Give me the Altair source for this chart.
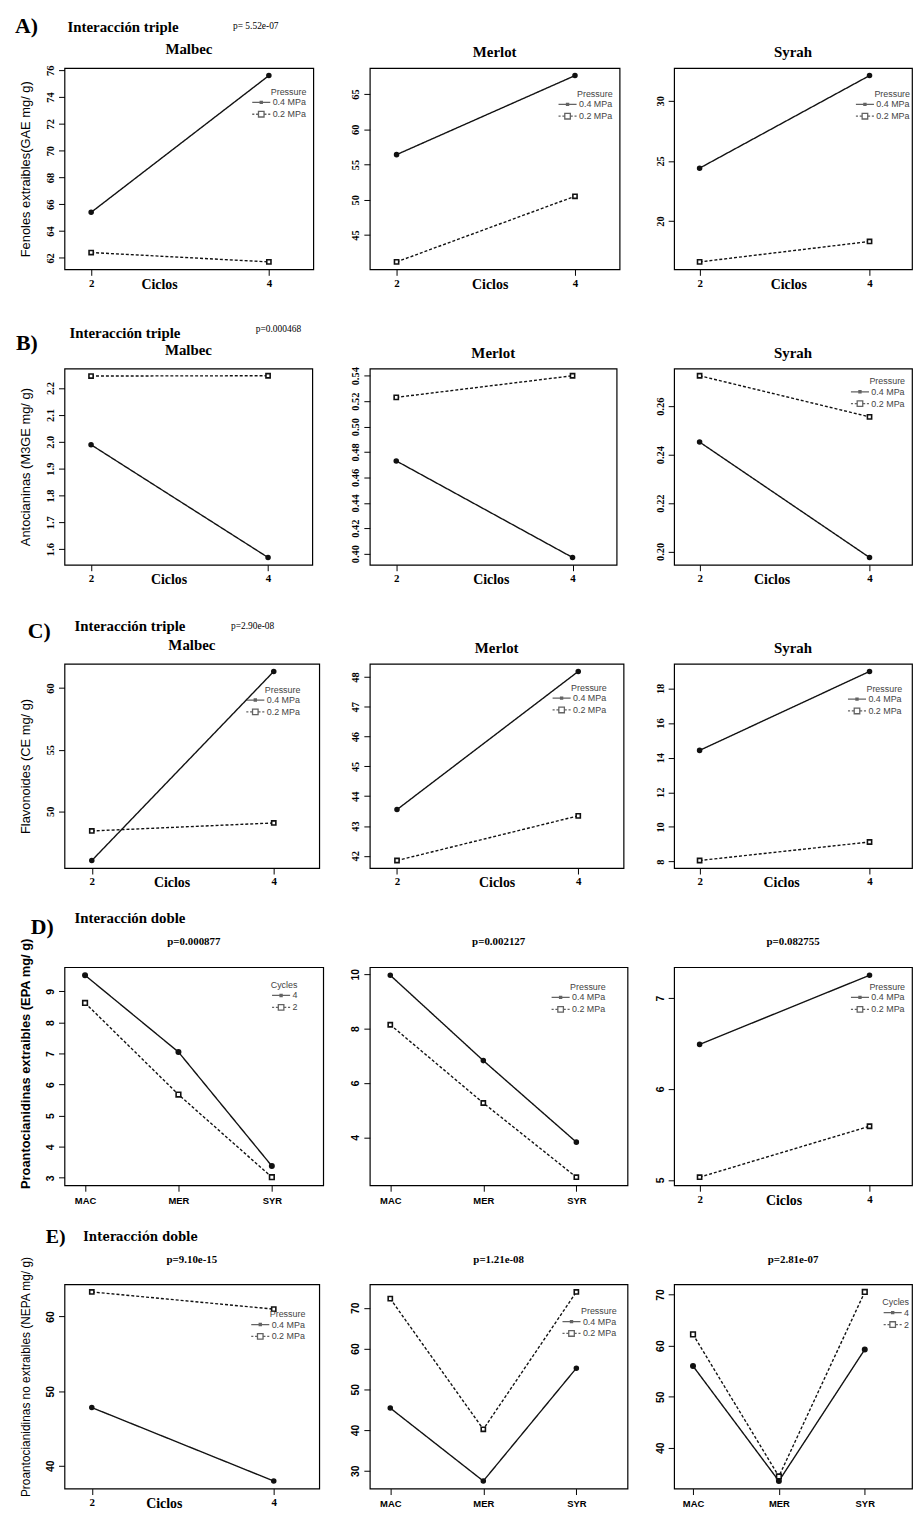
import altair as alt
import pandas as pd

# ---------------- data ----------------
CICLOS = [2, 4]
CULTIVARES = ["MAC", "MER", "SYR"]
PRESION = ["0.4 MPa", "0.2 MPa"]
CICLOS_LEYENDA = ["4", "2"]

# A) Fenoles extraibles
fen_malbec_04 = [65.4, 75.6]
fen_malbec_02 = [62.4, 61.7]
fen_merlot_04 = [56.4, 67.6]
fen_merlot_02 = [41.2, 50.5]
fen_syrah_04 = [24.4, 32.1]
fen_syrah_02 = [16.6, 18.3]

# B) Antocianinas
ant_malbec_04 = [1.989, 1.569]
ant_malbec_02 = [2.245, 2.246]
ant_merlot_04 = [0.473, 0.397]
ant_merlot_02 = [0.523, 0.540]
ant_syrah_04 = [0.2452, 0.1975]
ant_syrah_02 = [0.2726, 0.2556]

# C) Flavonoides
flav_malbec_04 = [46.0, 61.35]
flav_malbec_02 = [48.4, 49.05]
flav_merlot_04 = [43.55, 48.19]
flav_merlot_02 = [41.84, 43.34]
flav_syrah_04 = [14.42, 18.98]
flav_syrah_02 = [8.06, 9.13]

# D) Proantocianidinas extraibles
epa_cult_ciclo4 = [9.52, 7.05, 3.38]
epa_cult_ciclo2 = [8.63, 5.68, 3.02]
epa_cult_04 = [9.96, 6.82, 3.82]
epa_cult_02 = [8.14, 5.26, 2.53]
epa_ciclo_04 = [6.49, 7.25]
epa_ciclo_02 = [5.03, 5.59]

# E) Proantocianidinas no extraibles
nepa_ciclo_04 = [47.8, 37.95]
nepa_ciclo_02 = [63.3, 61.0]
nepa_cult_04 = [45.4, 27.5, 55.2]
nepa_cult_02 = [72.25, 40.2, 73.9]
nepa_cult_ciclo4 = [56.0, 33.5, 59.25]
nepa_cult_ciclo2 = [62.2, 34.4, 70.5]

# tick labels
ticks_fen = [[62, 64, 66, 68, 70, 72, 74, 76], [45, 50, 55, 60, 65], [20, 25, 30]]
ticks_ant = [[1.6, 1.7, 1.8, 1.9, 2.0, 2.1, 2.2],
             [0.40, 0.42, 0.44, 0.46, 0.48, 0.50, 0.52, 0.54],
             [0.20, 0.22, 0.24, 0.26]]
ticks_flav = [[50, 55, 60], [42, 43, 44, 45, 46, 47, 48], [8, 10, 12, 14, 16, 18]]
ticks_epa = [[3, 4, 5, 6, 7, 8, 9], [4, 6, 8, 10], [5, 5.5, 6, 6.5, 7]]
ticks_nepa = [[40, 50, 60], [30, 40, 50, 60, 70], [40, 50, 60, 70]]

ROW_LABELS = ["A)", "B)", "C)", "D)", "E)"]
ROW_TITLES = ["Interacción triple", "Interacción triple", "Interacción triple",
              "Interacción doble", "Interacción doble"]
ROW_P = ["p= 5.52e-07", "p=0.000468", "p=2.90e-08", "", ""]
PANEL_TITLES = [["Malbec", "Merlot", "Syrah"],
                ["Malbec", "Merlot", "Syrah"],
                ["Malbec", "Merlot", "Syrah"],
                ["p=0.000877", "p=0.002127", "p=0.082755"],
                ["p=9.10e-15", "p=1.21e-08", "p=2.81e-07"]]
Y_TITLES = ["Fenoles extraibles(GAE mg/ g)", "Antocianinas (M3GE mg/ g)",
            "Flavonoides (CE mg/ g)", "Proantocianidinas extraibles (EPA mg/ g)",
            "Proantocianidinas no extraibles (NEPA mg/ g)"]

# ---------------- layout / style ----------------
WIDTHS = [[251, 252, 240], [250, 249, 240], [257, 256, 240], [261, 260, 240], [257, 260, 240]]
HEIGHTS = [203, 198, 206, 220, 206]
SERIF = "Liberation Serif"
SANS = "Liberation Sans"

SOLID_SYM = "M-2.6,0H2.6M-0.3,-0.3H0.3V0.3H-0.3Z"
DASH_SYM = "M-2.6,0H-2.0M-1.5,0H-0.9M0.9,0H1.5M2.0,0H2.6M-0.8,-0.8H0.8V0.8H-0.8Z"

PANELS = [
    # row A
    dict(x="ciclos", tx=0.38, groups=PRESION, series=[fen_malbec_04, fen_malbec_02], leg="Pressure", lx=57, ly=20, ticks=ticks_fen[0], fmt="d"),
    dict(x="ciclos", tx=0.48, groups=PRESION, series=[fen_merlot_04, fen_merlot_02], leg="Pressure", lx=57, ly=22, ticks=ticks_fen[1], fmt="d"),
    dict(x="ciclos", tx=0.48, groups=PRESION, series=[fen_syrah_04, fen_syrah_02], leg="Pressure", lx=52, ly=22, ticks=ticks_fen[2], fmt="d"),
    # row B
    dict(x="ciclos", tx=0.42, groups=PRESION, series=[ant_malbec_04, ant_malbec_02], leg=None, lx=0, ly=0, ticks=ticks_ant[0], fmt=".1f"),
    dict(x="ciclos", tx=0.49, groups=PRESION, series=[ant_merlot_04, ant_merlot_02], leg=None, lx=0, ly=0, ticks=ticks_ant[1], fmt=".2f"),
    dict(x="ciclos", tx=0.41, groups=PRESION, series=[ant_syrah_04, ant_syrah_02], leg="Pressure", lx=57, ly=9, ticks=ticks_ant[2], fmt=".2f"),
    # row C
    dict(x="ciclos", tx=0.42, groups=PRESION, series=[flav_malbec_04, flav_malbec_02], leg="Pressure", lx=69, ly=22, ticks=ticks_flav[0], fmt="d"),
    dict(x="ciclos", tx=0.50, groups=PRESION, series=[flav_merlot_04, flav_merlot_02], leg="Pressure", lx=67, ly=20, ticks=ticks_flav[1], fmt="d"),
    dict(x="ciclos", tx=0.45, groups=PRESION, series=[flav_syrah_04, flav_syrah_02], leg="Pressure", lx=60, ly=21, ticks=ticks_flav[2], fmt="d"),
    # row D
    dict(x="cult", tx=0.5, groups=CICLOS_LEYENDA, series=[epa_cult_ciclo4, epa_cult_ciclo2], leg="Cycles", lx=53, ly=14, ticks=ticks_epa[0], fmt="d"),
    dict(x="cult", tx=0.5, groups=PRESION, series=[epa_cult_04, epa_cult_02], leg="Pressure", lx=72, ly=16, ticks=ticks_epa[1], fmt="d"),
    dict(x="ciclos", tx=0.46, groups=PRESION, series=[epa_ciclo_04, epa_ciclo_02], leg="Pressure", lx=57, ly=16, ticks=ticks_epa[2], fmt="d", minor=True),
    # row E
    dict(x="ciclos", tx=0.39, groups=PRESION, series=[nepa_ciclo_04, nepa_ciclo_02], leg="Pressure", lx=64, ly=26, ticks=ticks_nepa[0], fmt="d"),
    dict(x="cult", tx=0.5, groups=PRESION, series=[nepa_cult_04, nepa_cult_02], leg="Pressure", lx=61, ly=23, ticks=ticks_nepa[1], fmt="d"),
    dict(x="cult", tx=0.5, groups=CICLOS_LEYENDA, series=[nepa_cult_ciclo4, nepa_cult_ciclo2], leg="Cycles", lx=30, ly=14, ticks=ticks_nepa[2], fmt="d"),
]

HEADER_POS = [  # (label x, label y, title x, title y, p x, p y)
    (-50, -42, 3, -41, 170, -42),
    (-49, -26, 5, -36, 193, -40),
    (-37, -33, 10, -38, 168, -38),
    (-34, -40, 10, -50, 0, 0),
    (-19, -48, 19, -48, 0, 0),
]


def y_domain(series):
    vals = [v for s in series for v in s]
    lo, hi = min(vals), max(vals)
    r = hi - lo
    return [lo - 0.04 * r, hi + 0.04 * r]


def text_layer(txt, x, y, font, size, weight="bold", align="left"):
    return alt.Chart(pd.DataFrame({"t": [txt]})).mark_text(
        align=align, baseline="middle", font=font, fontSize=size, fontWeight=weight,
        color="black").encode(x=alt.value(x), y=alt.value(y), text="t:N")


def make_panel(idx):
    r, c = divmod(idx, 3)
    p = PANELS[idx]
    w, h = WIDTHS[r][c], HEIGHTS[r]
    xs = CICLOS if p["x"] == "ciclos" else [1, 2, 3]
    rows = []
    for g, vals in zip(p["groups"], p["series"]):
        for xv, yv in zip(xs, vals):
            rows.append({"x": xv, "y": yv, "grp": g})
    df = pd.DataFrame(rows)
    base = alt.Chart(df)

    num_font = SERIF if r < 3 else SANS
    if p["x"] == "ciclos":
        xenc = alt.X("x:Q", scale=alt.Scale(domain=[1.7, 4.5], nice=False, zero=False),
                     axis=alt.Axis(values=CICLOS, format="d", title="Ciclos",
                                   titleX=w * p["tx"], titleY=15, titleBaseline="middle",
                                   titleAlign="center", titleFont=SERIF, titleFontSize=14,
                                   titleFontWeight="bold", labelFont=SERIF, labelFontSize=11,
                                   labelFontWeight="bold", labelPadding=2, tickSize=6,
                                   labelOverlap=False))
    else:
        xenc = alt.X("x:Q", scale=alt.Scale(domain=[0.78, 3.55], nice=False, zero=False),
                     axis=alt.Axis(values=[1, 2, 3], labelExpr=f"{CULTIVARES}[datum.value - 1]",
                                   title=None, labelFont=SANS, labelFontSize=9.5,
                                   labelFontWeight="bold", labelPadding=4, tickSize=6,
                                   labelOverlap=False))

    yaxis_kw = dict(values=p["ticks"], format=p["fmt"], labelAngle=270, labelAlign="center",
                    labelBaseline="bottom", labelFont=num_font, labelFontSize=10.5,
                    labelFontWeight="bold", labelPadding=3, tickSize=6, labelOverlap=False)
    if p.get("minor"):
        yaxis_kw["labelExpr"] = "datum.value % 1 === 0 ? format(datum.value, 'd') : ''"
    if c == 0:
        yaxis_kw.update(title=Y_TITLES[r], titleFont=SANS, titleFontSize=12 if r == 4 else 13,
                        titleFontWeight="bold" if r == 3 else "normal", titlePadding=13)
        if r == 3:
            yaxis_kw["titleY"] = h / 2 - 13
        elif r == 4:
            yaxis_kw["titleY"] = h / 2 - 10
    else:
        yaxis_kw["title"] = None
    yenc = alt.Y("y:Q", scale=alt.Scale(domain=y_domain(p["series"]), nice=False, zero=False),
                 axis=alt.Axis(**yaxis_kw))

    line = base.mark_line(color="#111", strokeWidth=1.4).encode(
        x=xenc, y=yenc,
        strokeDash=alt.StrokeDash("grp:N", scale=alt.Scale(domain=p["groups"], range=[[1, 0], [3, 2]]),
                                  legend=None))
    pts = base.mark_point(color="#111", strokeWidth=1.6, opacity=1, filled=False).encode(
        x=xenc, y=yenc,
        shape=alt.Shape("grp:N", scale=alt.Scale(domain=p["groups"], range=["circle", "square"]), legend=None),
        fill=alt.Fill("grp:N", scale=alt.Scale(domain=p["groups"], range=["#111", "white"]), legend=None),
        size=alt.Size("grp:N", scale=alt.Scale(domain=p["groups"], range=[16, 22]), legend=None))
    layers = [line, pts]
    if p["leg"]:
        leg = base.transform_filter("false").mark_point(color="#222", filled=False, strokeWidth=1.3).encode(
            x=xenc, y=yenc,
            shape=alt.Shape("grp:N", scale=alt.Scale(domain=p["groups"], range=[SOLID_SYM, DASH_SYM]),
                            legend=alt.Legend(title=p["leg"], orient="none", legendX=w - p["lx"],
                                              legendY=p["ly"])))
        layers.append(leg)
    # panel title
    if r < 3:
        layers.append(text_layer(PANEL_TITLES[r][c], w / 2, -19 if c == 0 else -16, SERIF, 15,
                                 align="center"))
    else:
        layers.append(text_layer(PANEL_TITLES[r][c], w / 2, -25, SERIF, 11, align="center"))
    # row header
    if c == 0:
        lx, lyy, tx, ty, px, py = HEADER_POS[r]
        layers.append(text_layer(ROW_LABELS[r], lx, lyy, SERIF, 22 if r < 4 else 20))
        if r < 4:
            layers.append(text_layer(ROW_TITLES[r], tx, ty, SERIF, 15))
        else:
            layers.append(text_layer(ROW_TITLES[r], tx, ty, "DejaVu Serif Condensed", 13))
        if ROW_P[r]:
            layers.append(text_layer(ROW_P[r], px, py, SERIF, 9.5, "normal"))

    return alt.layer(*layers).resolve_scale(shape="independent").properties(width=w, height=h)


chart = alt.concat(*[make_panel(i) for i in range(15)], columns=3,
                   spacing={"row": 100, "column": 47}, bounds="flush").configure_view(
    stroke="black", strokeWidth=1.2).configure_axis(
    grid=False, domain=False, tickColor="black", labelColor="black", titleColor="black",
    labelOverlap=False).configure_legend(
    titleFont=SANS, titleFontSize=9, titleFontWeight="normal", titleColor="#444",
    labelFont=SANS, labelFontSize=9, labelColor="#444", symbolSize=49, symbolStrokeWidth=1.3,
    labelOffset=7, rowPadding=1, titlePadding=1, titleAnchor="end", padding=0).properties(
    padding={"left": 6, "top": 0, "right": 0, "bottom": 0})

chart.save("out.html", embed_options={"renderer": "svg", "actions": False})
